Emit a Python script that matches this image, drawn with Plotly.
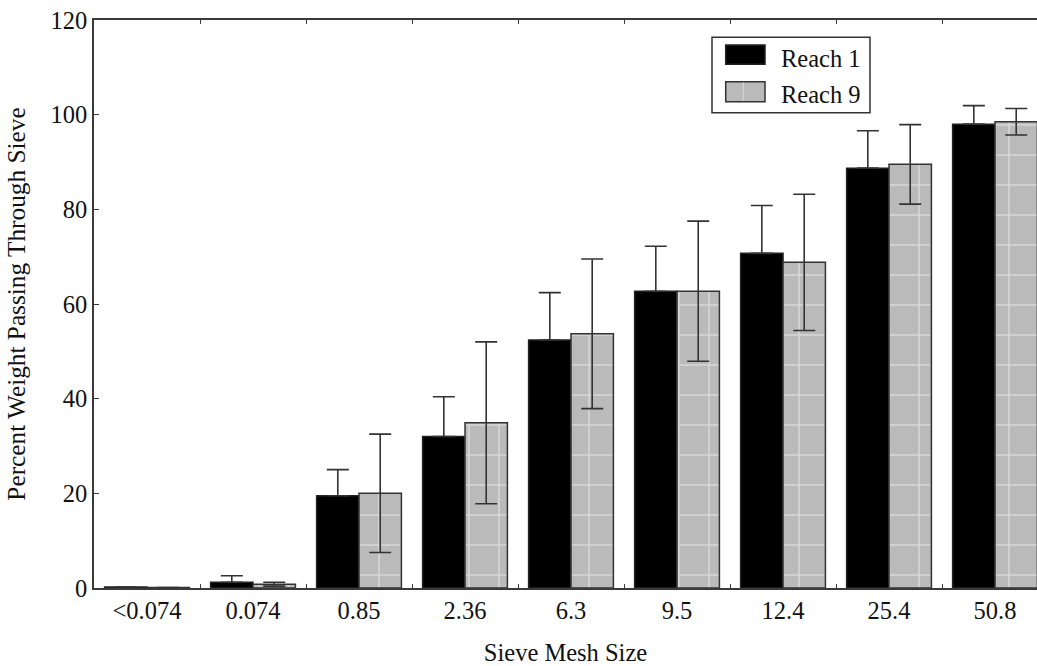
import plotly.graph_objects as go

categories = ["<0.074", "0.074", "0.85", "2.36", "6.3", "9.5", "12.4", "25.4", "50.8"]
reach1_mean = [0.2, 1.2, 19.5, 32.0, 52.4, 62.7, 70.7, 88.7, 98.0]
reach1_sd = [0.0, 1.4, 5.5, 8.4, 10.0, 9.5, 10.1, 7.9, 3.9]
reach9_mean = [0.1, 0.8, 20.0, 34.9, 53.7, 62.7, 68.8, 89.5, 98.5]
reach9_sd = [0.0, 0.4, 12.5, 17.1, 15.8, 14.8, 14.4, 8.4, 2.8]
series_names = ["Reach 1", "Reach 9"]

FONT = "Liberation Serif"
FS = 24.5
AXIS_COLOR = "#3a3a3a"
TEXT_COLOR = "#111111"
GRAY_BG = "#bababa"
GRAY_FG = "#d8d8d8"

# plot area in pixels (used only to place the hand-made legend)
PL, PT, PW, PH = 94, 20, 943, 568


def px_x(px):
    return (px - PL) / PW


def px_y(py):
    return (PT + PH - py) / PH


fig = go.Figure()
fig.add_trace(go.Bar(
    x=categories, y=reach1_mean, name=series_names[0],
    marker=dict(color="#000000", line=dict(color="#222222", width=1.5)),
    error_y=dict(type="data", symmetric=False, array=reach1_sd,
                 arrayminus=[0] * len(reach1_sd), visible=True,
                 color="#333333", thickness=1.6, width=11),
    showlegend=False,
))
fig.add_trace(go.Bar(
    x=categories, y=reach9_mean, name=series_names[1],
    marker=dict(color=GRAY_BG, line=dict(color="#333333", width=1.5),
                pattern=dict(shape="+", fgcolor=GRAY_FG, bgcolor=GRAY_BG,
                             size=30, solidity=0.1, fillmode="replace")),
    error_y=dict(type="data", array=reach9_sd, visible=True,
                 color="#333333", thickness=1.6, width=11),
    showlegend=False,
))

# hand-made legend (box, swatches, labels)
legend_shapes = [
    dict(type="rect", xref="paper", yref="paper", x0=px_x(712), x1=px_x(870),
         y0=px_y(112.7), y1=px_y(37.3),
         line=dict(color="#333333", width=1.5), fillcolor="white", layer="above"),
    dict(type="rect", xref="paper", yref="paper", x0=px_x(725.7), x1=px_x(765),
         y0=px_y(64.3), y1=px_y(45),
         line=dict(color="#222222", width=1.5), fillcolor="black", layer="above"),
    dict(type="rect", xref="paper", yref="paper", x0=px_x(725.7), x1=px_x(765),
         y0=px_y(101.7), y1=px_y(81.7),
         line=dict(color="#333333", width=1.5), fillcolor=GRAY_BG, layer="above"),
    dict(type="line", xref="paper", yref="paper", x0=px_x(743.3), x1=px_x(743.3),
         y0=px_y(101), y1=px_y(82.4),
         line=dict(color=GRAY_FG, width=1), layer="above"),
]
legend_annots = [
    dict(xref="paper", yref="paper", x=px_x(779), y=px_y(58.5), text=series_names[0],
         showarrow=False, xanchor="left", yanchor="middle",
         font=dict(family=FONT, size=FS, color=TEXT_COLOR)),
    dict(xref="paper", yref="paper", x=px_x(779), y=px_y(94), text=series_names[1],
         showarrow=False, xanchor="left", yanchor="middle",
         font=dict(family=FONT, size=FS, color=TEXT_COLOR)),
]

fig.update_layout(
    width=1037, height=666,
    margin=dict(l=PL, r=0, t=PT, b=666 - PT - PH),
    paper_bgcolor="white", plot_bgcolor="white",
    barmode="group", bargap=0.2, bargroupgap=0.0,
    font=dict(family=FONT, size=FS, color=TEXT_COLOR),
    shapes=legend_shapes, annotations=legend_annots,
    xaxis=dict(
        type="category", range=[-0.5, 8.396], automargin=False,
        showline=True, linecolor=AXIS_COLOR, linewidth=1.5, mirror="ticks",
        ticks="inside", ticklen=4, tickwidth=1.2, tickcolor=AXIS_COLOR,
        tickson="boundaries", showgrid=False, zeroline=False,
        tickfont=dict(family=FONT, size=FS, color=TEXT_COLOR),
        title=dict(text="Sieve Mesh Size", font=dict(family=FONT, size=FS, color=TEXT_COLOR),
                   standoff=26),
    ),
    yaxis=dict(
        range=[0, 120], tickvals=[0, 20, 40, 60, 80, 100, 120], automargin=False,
        showline=True, linecolor=AXIS_COLOR, linewidth=1.5, mirror=False,
        ticks="inside", ticklen=5, tickwidth=1.2, tickcolor=AXIS_COLOR,
        showgrid=False, zeroline=False,
        tickfont=dict(family=FONT, size=FS, color=TEXT_COLOR),
        title=dict(text="Percent Weight Passing Through Sieve",
                   font=dict(family=FONT, size=25.3, color=TEXT_COLOR), standoff=18),
    ),
)

fig.write_html(
    "out.html",
    config={"displayModeBar": False},
    post_script="document.body.style.margin='0px';"
                "document.documentElement.style.overflow='hidden';",
)
